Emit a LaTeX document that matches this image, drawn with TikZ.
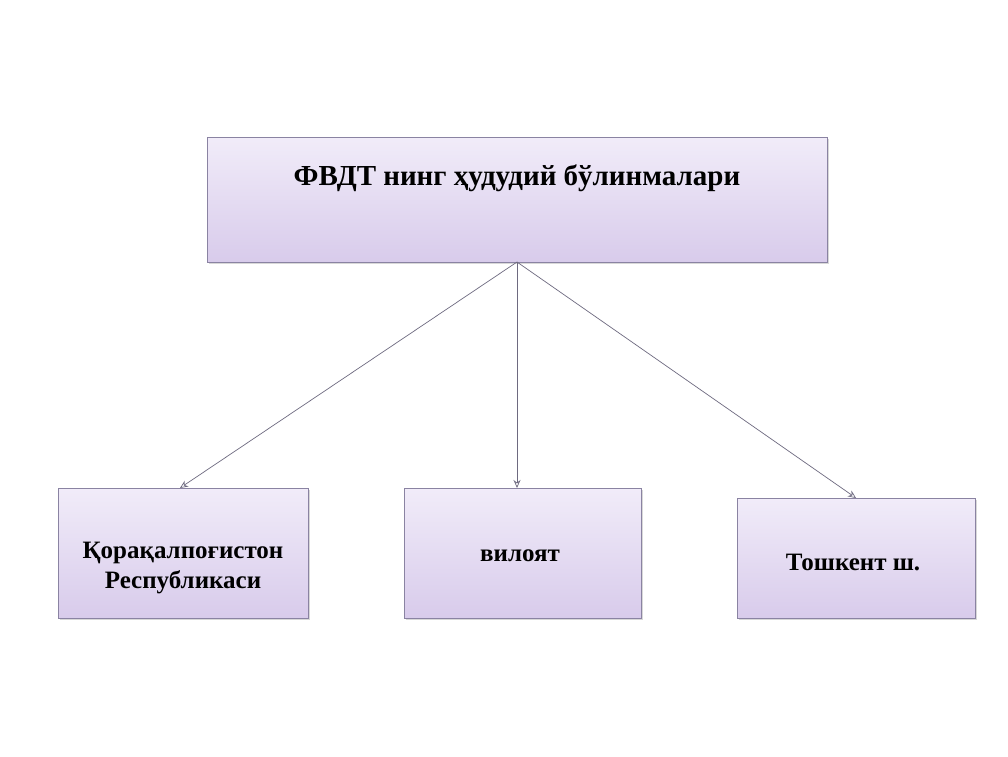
\documentclass[tikz,border=0pt]{standalone}
\usepackage{fontspec}
\setmainfont{Liberation Serif}
\usetikzlibrary{arrows.meta,shadows}
\begin{document}
\begin{tikzpicture}[x=1pt,y=-1pt,
  box/.style={draw=boxline,line width=0.8pt,top color=boxtop,bottom color=boxbot,
    drop shadow={shadow xshift=1.5pt,shadow yshift=-2pt,opacity=0.3}},
  lbl/.style={font=\bfseries\fontsize{25}{30}\selectfont,align=center,text=black},
  conn/.style={draw=linec,line width=0.7pt,-{Stealth[length=8pt,width=7pt,open]}}]
\definecolor{boxtop}{HTML}{F1ECF9}
\definecolor{boxbot}{HTML}{D8CBEB}
\definecolor{boxline}{HTML}{8A83A2}
\definecolor{linec}{HTML}{6E6A80}
\useasboundingbox[fill=white] (0,0) rectangle (1008,756);
\node[box,minimum width=620pt,minimum height=125pt,inner sep=0pt] (top) at (517,199.5) {};
\node[lbl,font=\bfseries\fontsize{29}{34}\selectfont] (toptext) at (517,178) {ФВДТ нинг ҳудудий бўлинмалари};
\node[box,minimum width=250pt,minimum height=130pt,inner sep=0pt] (l) at (183,553) {};
\node[box,minimum width=237pt,minimum height=130pt,inner sep=0pt] (m) at (522.5,553) {};
\node[box,minimum width=238pt,minimum height=120pt,inner sep=0pt] (r) at (856,558) {};
\node[lbl] (ltext) at (183,568) {Қорақалпоғистон\\Республикаси};
\node[lbl] (mtext) at (520,556) {вилоят};
\node[lbl] (rtext) at (853,562) {Тошкент ш.};
\coordinate (src) at (517,262);
\coordinate (le) at (180,488);
\coordinate (me) at (517,488);
\coordinate (re) at (856,498);
\draw[conn] (src) -- (le);
\draw[conn] (src) -- (me);
\draw[conn] (src) -- (re);
\end{tikzpicture}
\end{document}
